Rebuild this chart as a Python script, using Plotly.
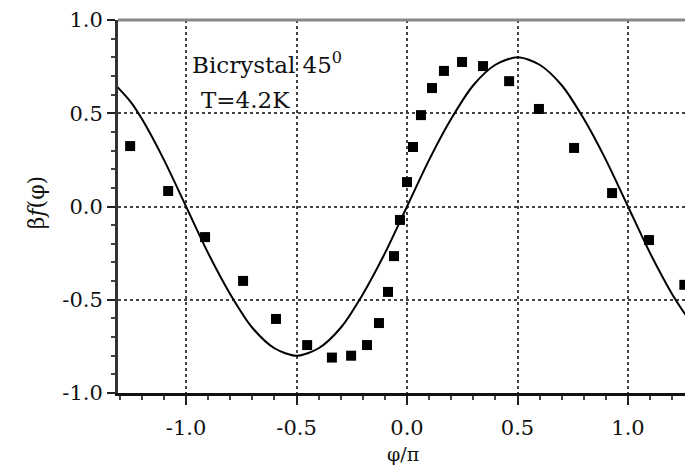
import plotly.graph_objects as go

# measured points (phi/pi, beta f(phi))
data_x = [-1.253, -1.081, -0.914, -0.742, -0.593, -0.452, -0.340, -0.253, -0.181,
          -0.127, -0.086, -0.059, -0.032, 0.0, 0.027, 0.063, 0.113, 0.167, 0.249,
          0.344, 0.462, 0.597, 0.756, 0.928, 1.095, 1.255]
data_y = [0.324, 0.083, -0.164, -0.399, -0.603, -0.743, -0.81, -0.80, -0.743,
          -0.625, -0.458, -0.266, -0.072, 0.131, 0.319, 0.49, 0.635, 0.727, 0.775,
          0.753, 0.672, 0.523, 0.314, 0.072, -0.18, -0.42]

# theory curve
curve_x = [-1.31, -1.25, -1.2, -1.1, -1.0, -0.9, -0.8, -0.7, -0.6, -0.5, -0.4, -0.3, -0.2,
           -0.1, 0.0, 0.1, 0.2, 0.3, 0.4, 0.5, 0.6, 0.7, 0.8, 0.9, 1.0, 1.1, 1.2, 1.26]
curve_y = [0.64, 0.56, 0.47, 0.25, 0.0, -0.25, -0.47, -0.65, -0.76, -0.80, -0.76, -0.65, -0.47,
           -0.25, 0.0, 0.25, 0.47, 0.65, 0.76, 0.80, 0.76, 0.65, 0.47, 0.25, 0.0, -0.25,
           -0.47, -0.58]

tick_vals = [-1.0, -0.5, 0.0, 0.5, 1.0]
tick_text = ["-1.0", "-0.5", "0.0", "0.5", "1.0"]

serif = "DejaVu Serif, serif"
ink = "#111"

fig = go.Figure()
fig.add_trace(go.Scatter(x=curve_x, y=curve_y, mode="lines",
                         line=dict(color="black", width=2, shape="spline", smoothing=0.8),
                         showlegend=False, hoverinfo="skip"))
fig.add_trace(go.Scatter(x=data_x, y=data_y, mode="markers",
                         marker=dict(symbol="square", size=10, color="black"),
                         showlegend=False))

fig.update_layout(
    width=685, height=466,
    margin=dict(l=118, r=0, t=20, b=73),
    paper_bgcolor="white", plot_bgcolor="white",
    font=dict(family=serif, color=ink, size=21),
    xaxis=dict(range=[-1.308, 1.258], tickmode="array", tickvals=tick_vals, ticktext=tick_text,
               showline=True, linecolor="#111", linewidth=3,
               ticks="outside", ticklen=9, tickwidth=2, tickcolor="#222",
               ticklabelstandoff=5,
               showgrid=True, gridcolor="#444", griddash="dot", gridwidth=1.5,
               zeroline=False,
               minor=dict(dtick=0.1, tick0=0, ticks="outside", ticklen=4, tickwidth=2,
                          tickcolor="#444", showgrid=False)),
    yaxis=dict(range=[-1.0, 1.0], tickmode="array", tickvals=tick_vals, ticktext=tick_text,
               showline=True, linecolor="#333", linewidth=3,
               ticks="outside", ticklen=8, tickwidth=2, tickcolor="#222",
               showgrid=True, gridcolor="#444", griddash="dot", gridwidth=1.5,
               zeroline=False,
               minor=dict(dtick=0.1, tick0=0, ticks="outside", ticklen=4, tickwidth=2,
                          tickcolor="#444", showgrid=False)),
)

# top frame line (gray)
fig.add_shape(type="line", xref="paper", yref="paper", x0=0, x1=1, y0=1, y1=1,
              line=dict(color="#888", width=3))

fig.add_annotation(text="Bicrystal 45<sup>0</sup>", xref="x", yref="y", x=-0.98, y=0.77,
                   xanchor="left", yanchor="middle", showarrow=False,
                   font=dict(family=serif, size=23, color=ink))
fig.add_annotation(text="T=4.2K", xref="x", yref="y", x=-0.94, y=0.57,
                   xanchor="left", yanchor="middle", showarrow=False,
                   font=dict(family=serif, size=23, color=ink))
fig.add_annotation(text="β<i>f</i>(φ)", xref="paper", yref="paper", x=0, y=0.51,
                   xshift=-96, textangle=-90, showarrow=False,
                   font=dict(family=serif, size=22, color=ink))
fig.add_annotation(text="φ/π", xref="x", yref="paper", x=-0.02, y=0,
                   yanchor="middle", yshift=-61, showarrow=False,
                   font=dict(family=serif, size=19, color=ink))

fig.write_html("out.html")
